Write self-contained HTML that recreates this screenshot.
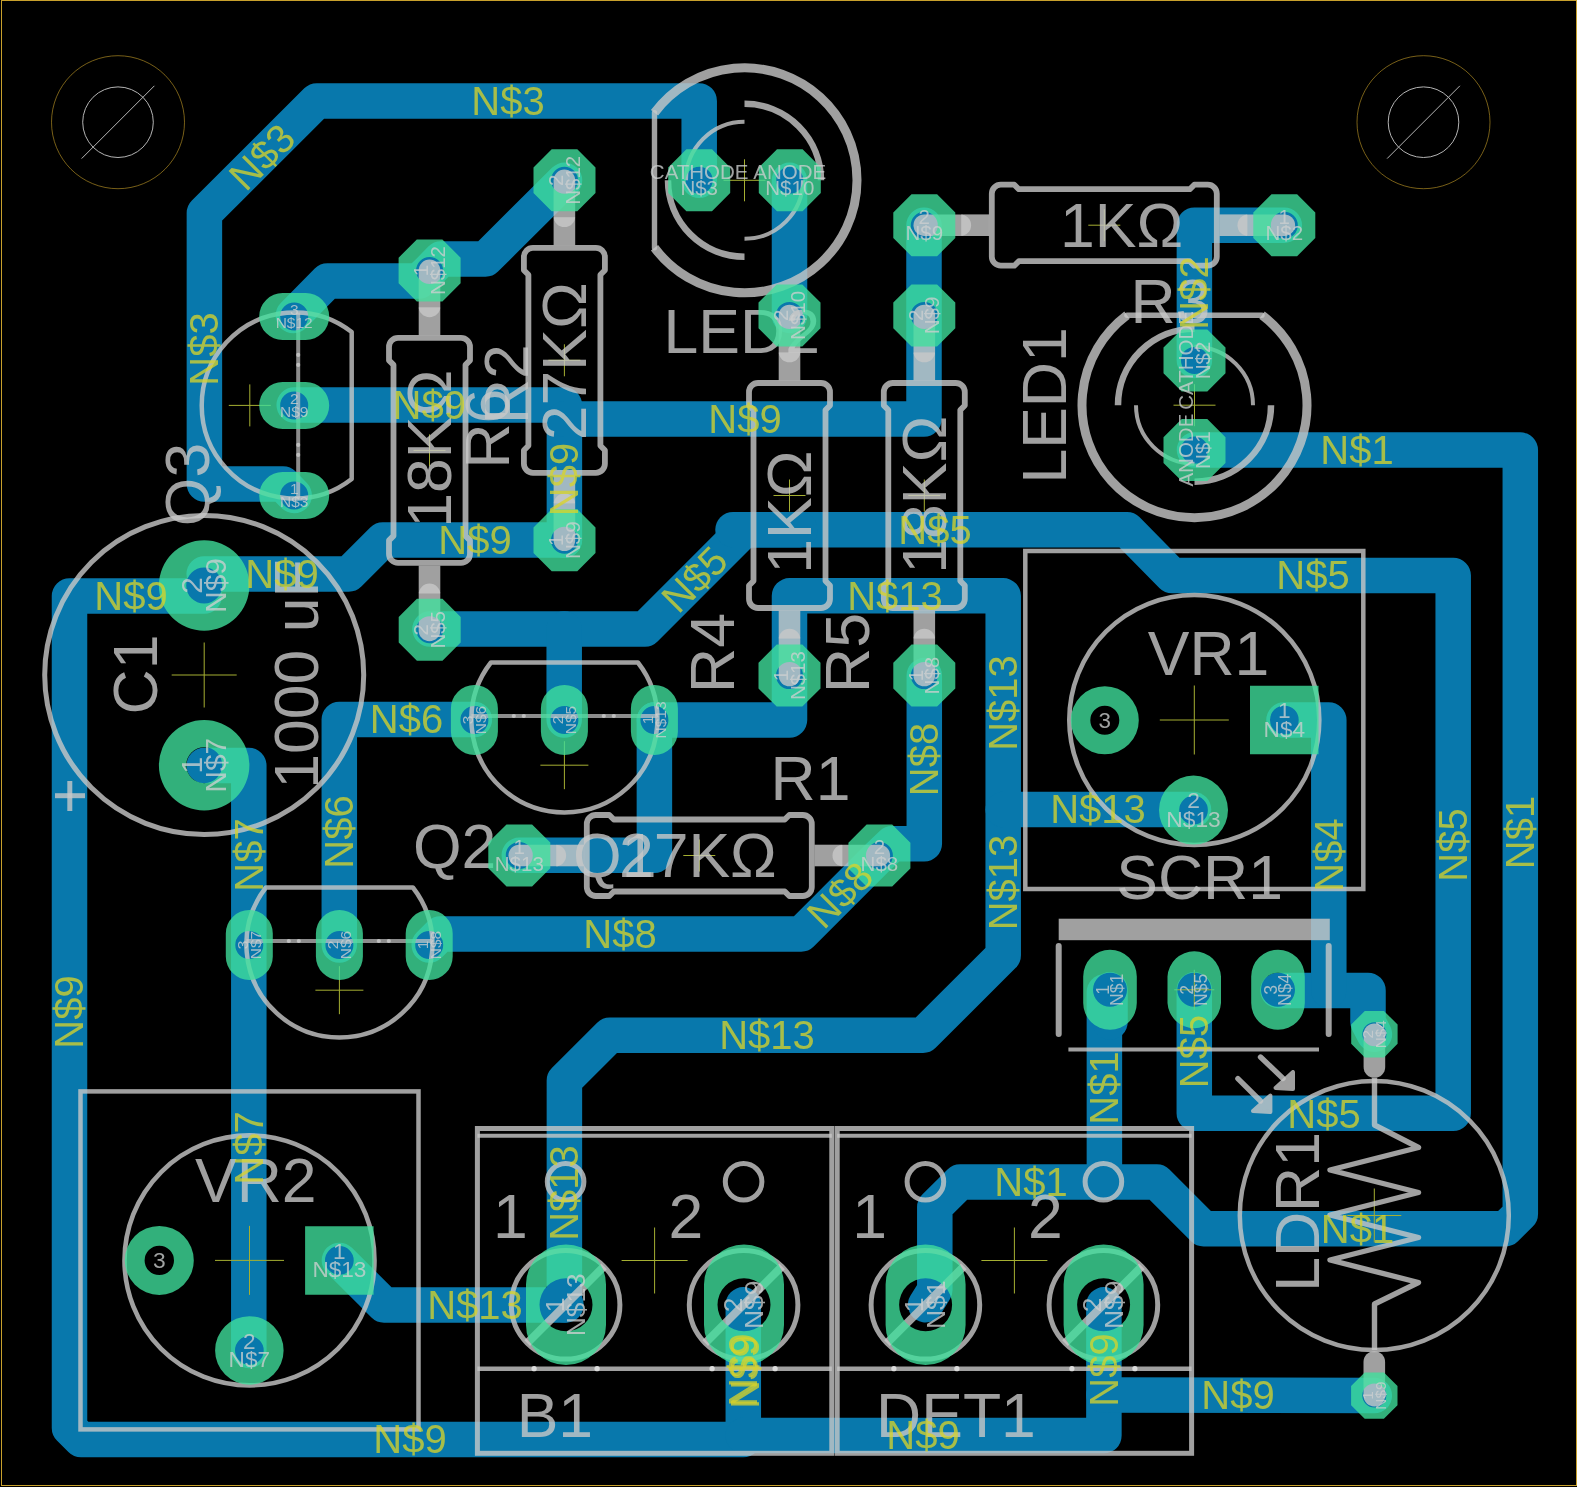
<!DOCTYPE html>
<html><head><meta charset="utf-8"><title>PCB</title>
<style>html,body{margin:0;padding:0;background:#000}svg{display:block}</style></head>
<body><svg width="1577" height="1487" viewBox="0 0 1577 1487">
<defs><filter id="noaa" filterUnits="userSpaceOnUse" x="0" y="0" width="1577" height="1487" color-interpolation-filters="sRGB"><feOffset dx="0" dy="0"/></filter></defs>
<rect width="1577" height="1487" fill="#000"/>
<g filter="url(#noaa)">
<g fill="none" stroke="#0878ac" stroke-width="35.5" stroke-linecap="round" stroke-linejoin="round">
<polyline points="699.2,180.3 699.2,100.9 316.8,100.9 204.4,213.1 204.4,484.0 283.0,484.0 294.2,495.5"/>
<polyline points="293.4,315.5 327.4,281.0 419.0,281.0 429.6,270.6 441.0,259.0 485.5,259.0 564.5,180.3"/>
<polyline points="294.2,405.0 564.4,405.0 564.4,540.0"/>
<polyline points="564.4,419.0 924.0,419.0 924.0,225.2"/>
<polyline points="564.4,540.0 382.8,540.0 348.8,574.0 204.2,574.0"/>
<polyline points="204.2,596.0 69.5,596.0 69.5,1428.0 81.0,1439.6 743.3,1439.6 743.3,1304.8"/>
<polyline points="743.3,1435.6 1103.9,1435.6 1103.9,1304.8"/>
<polyline points="1103.9,1395.0 1374.3,1395.6"/>
<polyline points="430.0,629.0 645.0,629.0 744.2,529.7 1127.0,529.7 1172.0,575.5 1453.2,575.5 1453.2,1113.3 1194.3,1113.3 1194.3,989.8"/>
<polyline points="564.2,629.0 564.2,720.0"/>
<polyline points="733.0,529.7 800.0,529.7"/>
<polyline points="474.4,719.5 339.3,719.5 339.3,945.0"/>
<polyline points="654.4,720.0 789.5,720.0 789.5,595.8 1003.2,595.8 1003.2,955.3 923.1,1035.2 609.7,1035.2 564.4,1080.5 564.4,1304.8"/>
<polyline points="654.4,720.0 654.4,855.3 519.3,855.3"/>
<polyline points="1003.2,809.6 1193.5,809.6"/>
<polyline points="339.4,1260.4 384.0,1304.9 566.0,1304.9"/>
<polyline points="789.5,180.3 789.5,315.4"/>
<polyline points="924.3,675.6 924.3,843.8 892.0,843.8 879.4,855.8 801.2,934.0 440.2,934.0 429.2,945.0"/>
<polyline points="204.2,765.5 248.8,765.5 248.8,1350.4"/>
<polyline points="1284.3,225.2 1194.4,225.2 1194.4,360.4"/>
<polyline points="1194.5,450.0 1520.3,450.0 1520.3,1214.0 1505.5,1228.7 1203.6,1228.7 1156.9,1182.0 960.0,1182.0 934.8,1207.0 934.8,1290.0 925.6,1304.8"/>
<polyline points="1104.4,992.0 1104.4,1182.0"/>
<polyline points="1110.0,989.8 1110.0,1022.0"/>
<polyline points="1278.0,990.4 1368.0,990.4 1368.0,1022.0 1374.4,1034.2"/>
<polyline points="1284.0,720.0 1328.8,720.0 1328.8,990.4"/>
</g>
<g font-family="'Liberation Sans', sans-serif">
<line x1="-180.0" y1="0.0" x2="-144.0" y2="0.0" stroke="rgb(200,200,200)" stroke-opacity="0.8" stroke-width="21.6" stroke-linecap="round" transform="translate(1104.3 225.2) rotate(0)"/>
<rect x="-143.1" y="-10.8" width="27.9" height="21.6" fill="rgb(200,200,200)" fill-opacity="0.8" transform="translate(1104.3 225.2) rotate(0)"/>
<line x1="180.0" y1="0.0" x2="144.0" y2="0.0" stroke="rgb(200,200,200)" stroke-opacity="0.8" stroke-width="21.6" stroke-linecap="round" transform="translate(1104.3 225.2) rotate(0)"/>
<rect x="115.2" y="-10.8" width="27.9" height="21.6" fill="rgb(200,200,200)" fill-opacity="0.8" transform="translate(1104.3 225.2) rotate(0)"/>
<path d="M-112.5 -31.5 A9 9 0 0 1 -103.5 -40.5 L-90 -40.5 L-85.5 -36 L85.5 -36 L90 -40.5 L103.5 -40.5 A9 9 0 0 1 112.5 -31.5 L112.5 31.5 A9 9 0 0 1 103.5 40.5 L90 40.5 L85.5 36 L-85.5 36 L-90 40.5 L-103.5 40.5 A9 9 0 0 1 -112.5 31.5 Z" fill="none" stroke="rgb(200,200,200)" stroke-opacity="0.8" stroke-width="5.8" stroke-linecap="round" stroke-linejoin="round" transform="translate(1104.3 225.2) rotate(0)"/>
<path d="M1088.3 225.2H1120.3M1104.3 209.2V241.2" stroke="rgb(165,175,50)" stroke-width="1" fill="none"/>
<line x1="-180.0" y1="0.0" x2="-144.0" y2="0.0" stroke="rgb(200,200,200)" stroke-opacity="0.8" stroke-width="21.6" stroke-linecap="round" transform="translate(564.4 360.3) rotate(90)"/>
<rect x="-143.1" y="-10.8" width="27.9" height="21.6" fill="rgb(200,200,200)" fill-opacity="0.8" transform="translate(564.4 360.3) rotate(90)"/>
<line x1="180.0" y1="0.0" x2="144.0" y2="0.0" stroke="rgb(200,200,200)" stroke-opacity="0.8" stroke-width="21.6" stroke-linecap="round" transform="translate(564.4 360.3) rotate(90)"/>
<rect x="115.2" y="-10.8" width="27.9" height="21.6" fill="rgb(200,200,200)" fill-opacity="0.8" transform="translate(564.4 360.3) rotate(90)"/>
<path d="M-112.5 -31.5 A9 9 0 0 1 -103.5 -40.5 L-90 -40.5 L-85.5 -36 L85.5 -36 L90 -40.5 L103.5 -40.5 A9 9 0 0 1 112.5 -31.5 L112.5 31.5 A9 9 0 0 1 103.5 40.5 L90 40.5 L85.5 36 L-85.5 36 L-90 40.5 L-103.5 40.5 A9 9 0 0 1 -112.5 31.5 Z" fill="none" stroke="rgb(200,200,200)" stroke-opacity="0.8" stroke-width="5.8" stroke-linecap="round" stroke-linejoin="round" transform="translate(564.4 360.3) rotate(90)"/>
<path d="M548.4 360.3H580.4M564.4 344.3V376.3" stroke="rgb(165,175,50)" stroke-width="1" fill="none"/>
<line x1="-180.0" y1="0.0" x2="-144.0" y2="0.0" stroke="rgb(200,200,200)" stroke-opacity="0.8" stroke-width="21.6" stroke-linecap="round" transform="translate(429.5 450.4) rotate(90)"/>
<rect x="-143.1" y="-10.8" width="27.9" height="21.6" fill="rgb(200,200,200)" fill-opacity="0.8" transform="translate(429.5 450.4) rotate(90)"/>
<line x1="180.0" y1="0.0" x2="144.0" y2="0.0" stroke="rgb(200,200,200)" stroke-opacity="0.8" stroke-width="21.6" stroke-linecap="round" transform="translate(429.5 450.4) rotate(90)"/>
<rect x="115.2" y="-10.8" width="27.9" height="21.6" fill="rgb(200,200,200)" fill-opacity="0.8" transform="translate(429.5 450.4) rotate(90)"/>
<path d="M-112.5 -31.5 A9 9 0 0 1 -103.5 -40.5 L-90 -40.5 L-85.5 -36 L85.5 -36 L90 -40.5 L103.5 -40.5 A9 9 0 0 1 112.5 -31.5 L112.5 31.5 A9 9 0 0 1 103.5 40.5 L90 40.5 L85.5 36 L-85.5 36 L-90 40.5 L-103.5 40.5 A9 9 0 0 1 -112.5 31.5 Z" fill="none" stroke="rgb(200,200,200)" stroke-opacity="0.8" stroke-width="5.8" stroke-linecap="round" stroke-linejoin="round" transform="translate(429.5 450.4) rotate(90)"/>
<path d="M413.5 450.4H445.5M429.5 434.4V466.4" stroke="rgb(165,175,50)" stroke-width="1" fill="none"/>
<line x1="-180.0" y1="0.0" x2="-144.0" y2="0.0" stroke="rgb(200,200,200)" stroke-opacity="0.8" stroke-width="21.6" stroke-linecap="round" transform="translate(789.5 495.5) rotate(90)"/>
<rect x="-143.1" y="-10.8" width="27.9" height="21.6" fill="rgb(200,200,200)" fill-opacity="0.8" transform="translate(789.5 495.5) rotate(90)"/>
<line x1="180.0" y1="0.0" x2="144.0" y2="0.0" stroke="rgb(200,200,200)" stroke-opacity="0.8" stroke-width="21.6" stroke-linecap="round" transform="translate(789.5 495.5) rotate(90)"/>
<rect x="115.2" y="-10.8" width="27.9" height="21.6" fill="rgb(200,200,200)" fill-opacity="0.8" transform="translate(789.5 495.5) rotate(90)"/>
<path d="M-112.5 -31.5 A9 9 0 0 1 -103.5 -40.5 L-90 -40.5 L-85.5 -36 L85.5 -36 L90 -40.5 L103.5 -40.5 A9 9 0 0 1 112.5 -31.5 L112.5 31.5 A9 9 0 0 1 103.5 40.5 L90 40.5 L85.5 36 L-85.5 36 L-90 40.5 L-103.5 40.5 A9 9 0 0 1 -112.5 31.5 Z" fill="none" stroke="rgb(200,200,200)" stroke-opacity="0.8" stroke-width="5.8" stroke-linecap="round" stroke-linejoin="round" transform="translate(789.5 495.5) rotate(90)"/>
<path d="M773.5 495.5H805.5M789.5 479.5V511.5" stroke="rgb(165,175,50)" stroke-width="1" fill="none"/>
<line x1="-180.0" y1="0.0" x2="-144.0" y2="0.0" stroke="rgb(200,200,200)" stroke-opacity="0.8" stroke-width="21.6" stroke-linecap="round" transform="translate(924.3 495.5) rotate(90)"/>
<rect x="-143.1" y="-10.8" width="27.9" height="21.6" fill="rgb(200,200,200)" fill-opacity="0.8" transform="translate(924.3 495.5) rotate(90)"/>
<line x1="180.0" y1="0.0" x2="144.0" y2="0.0" stroke="rgb(200,200,200)" stroke-opacity="0.8" stroke-width="21.6" stroke-linecap="round" transform="translate(924.3 495.5) rotate(90)"/>
<rect x="115.2" y="-10.8" width="27.9" height="21.6" fill="rgb(200,200,200)" fill-opacity="0.8" transform="translate(924.3 495.5) rotate(90)"/>
<path d="M-112.5 -31.5 A9 9 0 0 1 -103.5 -40.5 L-90 -40.5 L-85.5 -36 L85.5 -36 L90 -40.5 L103.5 -40.5 A9 9 0 0 1 112.5 -31.5 L112.5 31.5 A9 9 0 0 1 103.5 40.5 L90 40.5 L85.5 36 L-85.5 36 L-90 40.5 L-103.5 40.5 A9 9 0 0 1 -112.5 31.5 Z" fill="none" stroke="rgb(200,200,200)" stroke-opacity="0.8" stroke-width="5.8" stroke-linecap="round" stroke-linejoin="round" transform="translate(924.3 495.5) rotate(90)"/>
<path d="M908.3 495.5H940.3M924.3 479.5V511.5" stroke="rgb(165,175,50)" stroke-width="1" fill="none"/>
<line x1="-180.0" y1="0.0" x2="-144.0" y2="0.0" stroke="rgb(200,200,200)" stroke-opacity="0.8" stroke-width="21.6" stroke-linecap="round" transform="translate(699.3 855.5) rotate(0)"/>
<rect x="-143.1" y="-10.8" width="27.9" height="21.6" fill="rgb(200,200,200)" fill-opacity="0.8" transform="translate(699.3 855.5) rotate(0)"/>
<line x1="180.0" y1="0.0" x2="144.0" y2="0.0" stroke="rgb(200,200,200)" stroke-opacity="0.8" stroke-width="21.6" stroke-linecap="round" transform="translate(699.3 855.5) rotate(0)"/>
<rect x="115.2" y="-10.8" width="27.9" height="21.6" fill="rgb(200,200,200)" fill-opacity="0.8" transform="translate(699.3 855.5) rotate(0)"/>
<path d="M-112.5 -31.5 A9 9 0 0 1 -103.5 -40.5 L-90 -40.5 L-85.5 -36 L85.5 -36 L90 -40.5 L103.5 -40.5 A9 9 0 0 1 112.5 -31.5 L112.5 31.5 A9 9 0 0 1 103.5 40.5 L90 40.5 L85.5 36 L-85.5 36 L-90 40.5 L-103.5 40.5 A9 9 0 0 1 -112.5 31.5 Z" fill="none" stroke="rgb(200,200,200)" stroke-opacity="0.8" stroke-width="5.8" stroke-linecap="round" stroke-linejoin="round" transform="translate(699.3 855.5) rotate(0)"/>
<path d="M683.3 855.5H715.3M699.3 839.5V871.5" stroke="rgb(165,175,50)" stroke-width="1" fill="none"/>
<path d="M-90 -67.5 A112.5 112.5 0 1 1 -90 67.5" fill="none" stroke="rgb(200,200,200)" stroke-opacity="0.8" stroke-width="9.0" stroke-linecap="butt" stroke-linejoin="round" transform="translate(744.5 180.3) rotate(0)"/>
<line x1="-90.0" y1="-67.5" x2="-90.0" y2="67.5" stroke="rgb(200,200,200)" stroke-opacity="0.8" stroke-width="5.4" stroke-linecap="round" transform="translate(744.5 180.3) rotate(0)"/>
<path d="M0 -76.5 A76.5 76.5 0 0 1 76.5 0" fill="none" stroke="rgb(200,200,200)" stroke-opacity="0.8" stroke-width="6.5" stroke-linecap="butt" stroke-linejoin="round" transform="translate(744.5 180.3) rotate(0)"/>
<path d="M-76.5 0 A76.5 76.5 0 0 0 0 76.5" fill="none" stroke="rgb(200,200,200)" stroke-opacity="0.8" stroke-width="6.5" stroke-linecap="butt" stroke-linejoin="round" transform="translate(744.5 180.3) rotate(0)"/>
<path d="M0 -58.5 A58.5 58.5 0 0 0 -58.5 0" fill="none" stroke="rgb(200,200,200)" stroke-opacity="0.8" stroke-width="4.0" stroke-linecap="butt" stroke-linejoin="round" transform="translate(744.5 180.3) rotate(0)"/>
<path d="M0 58.5 A58.5 58.5 0 0 0 58.5 0" fill="none" stroke="rgb(200,200,200)" stroke-opacity="0.8" stroke-width="4.0" stroke-linecap="butt" stroke-linejoin="round" transform="translate(744.5 180.3) rotate(0)"/>
<path d="M723.5 180.3H765.5M744.5 159.3V201.3" stroke="rgb(165,175,50)" stroke-width="1" fill="none"/>
<path d="M-90 -67.5 A112.5 112.5 0 1 1 -90 67.5" fill="none" stroke="rgb(200,200,200)" stroke-opacity="0.8" stroke-width="9.0" stroke-linecap="butt" stroke-linejoin="round" transform="translate(1194.5 405.2) rotate(90)"/>
<line x1="-90.0" y1="-67.5" x2="-90.0" y2="67.5" stroke="rgb(200,200,200)" stroke-opacity="0.8" stroke-width="5.4" stroke-linecap="round" transform="translate(1194.5 405.2) rotate(90)"/>
<path d="M0 -76.5 A76.5 76.5 0 0 1 76.5 0" fill="none" stroke="rgb(200,200,200)" stroke-opacity="0.8" stroke-width="6.5" stroke-linecap="butt" stroke-linejoin="round" transform="translate(1194.5 405.2) rotate(90)"/>
<path d="M-76.5 0 A76.5 76.5 0 0 0 0 76.5" fill="none" stroke="rgb(200,200,200)" stroke-opacity="0.8" stroke-width="6.5" stroke-linecap="butt" stroke-linejoin="round" transform="translate(1194.5 405.2) rotate(90)"/>
<path d="M0 -58.5 A58.5 58.5 0 0 0 -58.5 0" fill="none" stroke="rgb(200,200,200)" stroke-opacity="0.8" stroke-width="4.0" stroke-linecap="butt" stroke-linejoin="round" transform="translate(1194.5 405.2) rotate(90)"/>
<path d="M0 58.5 A58.5 58.5 0 0 0 58.5 0" fill="none" stroke="rgb(200,200,200)" stroke-opacity="0.8" stroke-width="4.0" stroke-linecap="butt" stroke-linejoin="round" transform="translate(1194.5 405.2) rotate(90)"/>
<path d="M1173.5 405.2H1215.5M1194.5 384.2V426.2" stroke="rgb(165,175,50)" stroke-width="1" fill="none"/>
<path d="M-73.5 -57.5 A93 93 0 1 0 73.5 -57.5 Z" fill="none" stroke="rgb(200,200,200)" stroke-opacity="0.8" stroke-width="4.5" stroke-linecap="round" stroke-linejoin="round" transform="translate(564.4 720.0) rotate(0)"/>
<line x1="-93.0" y1="-4.0" x2="93.0" y2="-4.0" stroke="rgb(200,200,200)" stroke-opacity="0.7" stroke-width="4.0" stroke-linecap="butt" transform="translate(564.4 720.0) rotate(0)"/>
<circle cx="-50.6" cy="-4" r="2.1" fill="rgb(225,225,225)" fill-opacity="0.6" transform="translate(564.4 720.0) rotate(0)"/>
<circle cx="-40.6" cy="-4" r="2.1" fill="rgb(225,225,225)" fill-opacity="0.6" transform="translate(564.4 720.0) rotate(0)"/>
<circle cx="39.4" cy="-4" r="2.1" fill="rgb(225,225,225)" fill-opacity="0.6" transform="translate(564.4 720.0) rotate(0)"/>
<circle cx="49.4" cy="-4" r="2.1" fill="rgb(225,225,225)" fill-opacity="0.6" transform="translate(564.4 720.0) rotate(0)"/>
<path d="M-73.5 -57.5 A93 93 0 1 0 73.5 -57.5 Z" fill="none" stroke="rgb(200,200,200)" stroke-opacity="0.8" stroke-width="4.5" stroke-linecap="round" stroke-linejoin="round" transform="translate(339.4 945.0) rotate(0)"/>
<line x1="-93.0" y1="-4.0" x2="93.0" y2="-4.0" stroke="rgb(200,200,200)" stroke-opacity="0.7" stroke-width="4.0" stroke-linecap="butt" transform="translate(339.4 945.0) rotate(0)"/>
<circle cx="-50.6" cy="-4" r="2.1" fill="rgb(225,225,225)" fill-opacity="0.6" transform="translate(339.4 945.0) rotate(0)"/>
<circle cx="-40.6" cy="-4" r="2.1" fill="rgb(225,225,225)" fill-opacity="0.6" transform="translate(339.4 945.0) rotate(0)"/>
<circle cx="39.4" cy="-4" r="2.1" fill="rgb(225,225,225)" fill-opacity="0.6" transform="translate(339.4 945.0) rotate(0)"/>
<circle cx="49.4" cy="-4" r="2.1" fill="rgb(225,225,225)" fill-opacity="0.6" transform="translate(339.4 945.0) rotate(0)"/>
<path d="M-73.5 -57.5 A93 93 0 1 0 73.5 -57.5 Z" fill="none" stroke="rgb(200,200,200)" stroke-opacity="0.8" stroke-width="4.5" stroke-linecap="round" stroke-linejoin="round" transform="translate(294.2 405.5) rotate(90)"/>
<line x1="-93.0" y1="-4.0" x2="93.0" y2="-4.0" stroke="rgb(200,200,200)" stroke-opacity="0.7" stroke-width="4.0" stroke-linecap="butt" transform="translate(294.2 405.5) rotate(90)"/>
<circle cx="-50.6" cy="-4" r="2.1" fill="rgb(225,225,225)" fill-opacity="0.6" transform="translate(294.2 405.5) rotate(90)"/>
<circle cx="-40.6" cy="-4" r="2.1" fill="rgb(225,225,225)" fill-opacity="0.6" transform="translate(294.2 405.5) rotate(90)"/>
<circle cx="39.4" cy="-4" r="2.1" fill="rgb(225,225,225)" fill-opacity="0.6" transform="translate(294.2 405.5) rotate(90)"/>
<circle cx="49.4" cy="-4" r="2.1" fill="rgb(225,225,225)" fill-opacity="0.6" transform="translate(294.2 405.5) rotate(90)"/>
<path d="M540.4 765.2H588.4M564.4 741.2V789.2" stroke="rgb(165,175,50)" stroke-width="1" fill="none"/>
<path d="M315.4 990.2H363.4M339.4 966.2V1014.2" stroke="rgb(165,175,50)" stroke-width="1" fill="none"/>
<path d="M228.8 405.4H270.8M249.8 384.4V426.4" stroke="rgb(165,175,50)" stroke-width="1" fill="none"/>
<circle cx="204.2" cy="675.0" r="159.5" fill="none" stroke="rgb(200,200,200)" stroke-opacity="0.8" stroke-width="5.0"/>
<path d="M171.7 675.0H236.7M204.2 642.5V707.5" stroke="rgb(165,175,50)" stroke-width="1" fill="none"/>
<line x1="55.0" y1="795.7" x2="85.0" y2="795.7" stroke="rgb(200,200,200)" stroke-opacity="0.8" stroke-width="5.0" stroke-linecap="butt"/>
<line x1="69.8" y1="781.0" x2="69.8" y2="811.0" stroke="rgb(200,200,200)" stroke-opacity="0.8" stroke-width="5.0" stroke-linecap="butt"/>
<rect x="1025.3" y="551.0" width="338" height="338" fill="none" stroke="rgb(200,200,200)" stroke-opacity="0.8" stroke-width="4.5"/>
<circle cx="1194.3" cy="720.0" r="125.0" fill="none" stroke="rgb(200,200,200)" stroke-opacity="0.8" stroke-width="4.6"/>
<path d="M1159.8 720.0H1228.8M1194.3 685.5V754.5" stroke="rgb(165,175,50)" stroke-width="1" fill="none"/>
<rect x="80.5" y="1091.4" width="338" height="338" fill="none" stroke="rgb(200,200,200)" stroke-opacity="0.8" stroke-width="4.5"/>
<circle cx="249.5" cy="1260.4" r="125.0" fill="none" stroke="rgb(200,200,200)" stroke-opacity="0.8" stroke-width="4.6"/>
<path d="M215.0 1260.4H284.0M249.5 1225.9V1294.9" stroke="rgb(165,175,50)" stroke-width="1" fill="none"/>
<rect x="1058.7" y="918.7" width="271.1" height="21.5" fill="rgb(200,200,200)" fill-opacity="0.8"/>
<line x1="1058.7" y1="946.0" x2="1058.7" y2="1034.0" stroke="rgb(200,200,200)" stroke-opacity="0.8" stroke-width="6.0" stroke-linecap="round"/>
<line x1="1328.7" y1="946.0" x2="1328.7" y2="1034.0" stroke="rgb(200,200,200)" stroke-opacity="0.8" stroke-width="6.0" stroke-linecap="round"/>
<line x1="1068.4" y1="1049.4" x2="1319.0" y2="1049.4" stroke="rgb(200,200,200)" stroke-opacity="0.8" stroke-width="4.0" stroke-linecap="butt"/>
<path d="M1174.3 989.8H1214.3M1194.3 969.8V1009.8" stroke="rgb(165,175,50)" stroke-width="1" fill="none"/>
<rect x="477.4" y="1128.5" width="354.4" height="324.8" fill="none" stroke="rgb(200,200,200)" stroke-opacity="0.8" stroke-width="5"/>
<line x1="477.4" y1="1135.8" x2="831.8" y2="1135.8" stroke="rgb(200,200,200)" stroke-opacity="0.8" stroke-width="4.0" stroke-linecap="butt"/>
<line x1="477.4" y1="1368.7" x2="831.8" y2="1368.7" stroke="rgb(200,200,200)" stroke-opacity="0.8" stroke-width="4.5" stroke-linecap="butt"/>
<circle cx="565.6" cy="1304.8" r="54.3" fill="none" stroke="rgb(200,200,200)" stroke-opacity="0.8" stroke-width="5.0"/>
<line x1="527.2" y1="1343.2" x2="604.0" y2="1266.4" stroke="rgb(200,200,200)" stroke-opacity="0.8" stroke-width="8.0" stroke-linecap="butt"/>
<circle cx="565.6" cy="1181.8" r="18.3" fill="none" stroke="rgb(200,200,200)" stroke-opacity="0.8" stroke-width="5.0"/>
<circle cx="534.1" cy="1368.7" r="2.6" fill="rgb(220,220,220)"/>
<circle cx="597.1" cy="1368.7" r="2.6" fill="rgb(220,220,220)"/>
<circle cx="743.6" cy="1304.8" r="54.3" fill="none" stroke="rgb(200,200,200)" stroke-opacity="0.8" stroke-width="5.0"/>
<line x1="705.2" y1="1343.2" x2="782.0" y2="1266.4" stroke="rgb(200,200,200)" stroke-opacity="0.8" stroke-width="8.0" stroke-linecap="butt"/>
<circle cx="743.6" cy="1181.8" r="18.3" fill="none" stroke="rgb(200,200,200)" stroke-opacity="0.8" stroke-width="5.0"/>
<circle cx="712.1" cy="1368.7" r="2.6" fill="rgb(220,220,220)"/>
<circle cx="775.1" cy="1368.7" r="2.6" fill="rgb(220,220,220)"/>
<path d="M621.6 1260.5H687.6M654.6 1227.5V1293.5" stroke="rgb(165,175,50)" stroke-width="1" fill="none"/>
<rect x="837.2" y="1128.5" width="354.4" height="324.8" fill="none" stroke="rgb(200,200,200)" stroke-opacity="0.8" stroke-width="5"/>
<line x1="837.2" y1="1135.8" x2="1191.6" y2="1135.8" stroke="rgb(200,200,200)" stroke-opacity="0.8" stroke-width="4.0" stroke-linecap="butt"/>
<line x1="837.2" y1="1368.7" x2="1191.6" y2="1368.7" stroke="rgb(200,200,200)" stroke-opacity="0.8" stroke-width="4.5" stroke-linecap="butt"/>
<circle cx="925.4" cy="1304.8" r="54.3" fill="none" stroke="rgb(200,200,200)" stroke-opacity="0.8" stroke-width="5.0"/>
<line x1="887.0" y1="1343.2" x2="963.8" y2="1266.4" stroke="rgb(200,200,200)" stroke-opacity="0.8" stroke-width="8.0" stroke-linecap="butt"/>
<circle cx="925.4" cy="1181.8" r="18.3" fill="none" stroke="rgb(200,200,200)" stroke-opacity="0.8" stroke-width="5.0"/>
<circle cx="893.9" cy="1368.7" r="2.6" fill="rgb(220,220,220)"/>
<circle cx="956.9" cy="1368.7" r="2.6" fill="rgb(220,220,220)"/>
<circle cx="1103.4" cy="1304.8" r="54.3" fill="none" stroke="rgb(200,200,200)" stroke-opacity="0.8" stroke-width="5.0"/>
<line x1="1065.0" y1="1343.2" x2="1141.8" y2="1266.4" stroke="rgb(200,200,200)" stroke-opacity="0.8" stroke-width="8.0" stroke-linecap="butt"/>
<circle cx="1103.4" cy="1181.8" r="18.3" fill="none" stroke="rgb(200,200,200)" stroke-opacity="0.8" stroke-width="5.0"/>
<circle cx="1071.9" cy="1368.7" r="2.6" fill="rgb(220,220,220)"/>
<circle cx="1134.9" cy="1368.7" r="2.6" fill="rgb(220,220,220)"/>
<path d="M981.4 1260.5H1047.4M1014.4 1227.5V1293.5" stroke="rgb(165,175,50)" stroke-width="1" fill="none"/>
<circle cx="1374.3" cy="1215.5" r="134.5" fill="none" stroke="rgb(200,200,200)" stroke-opacity="0.8" stroke-width="4.5"/>
<path d="M1347.3 1215.5H1401.3M1374.3 1188.5V1242.5" stroke="rgb(165,175,50)" stroke-width="1" fill="none"/>
<line x1="1374.4" y1="1034.2" x2="1374.4" y2="1067.0" stroke="rgb(200,200,200)" stroke-opacity="0.8" stroke-width="21.6" stroke-linecap="round"/>
<line x1="1374.3" y1="1395.6" x2="1374.3" y2="1362.0" stroke="rgb(200,200,200)" stroke-opacity="0.8" stroke-width="21.6" stroke-linecap="round"/>
<path d="M1374.5 1078 V1125 L1418.5 1147.5 L1330 1170 L1418.5 1192.5 L1330 1215 L1418.5 1237.5 L1330 1260 L1418.5 1282.5 L1374.5 1304 V1350" fill="none" stroke="rgb(200,200,200)" stroke-opacity="0.8" stroke-width="5.4" stroke-linecap="butt" stroke-linejoin="round"/>
<line x1="1260.5" y1="1057.0" x2="1283.0" y2="1078.5" stroke="rgb(200,200,200)" stroke-opacity="0.8" stroke-width="5.4" stroke-linecap="round"/>
<path d="M1293 1072 L1293 1089 L1275.5 1088 Z" fill="rgb(200,200,200)" stroke="rgb(200,200,200)" stroke-width="4" stroke-linejoin="round" opacity="0.8"/>
<line x1="1237.9" y1="1078.6" x2="1260.5" y2="1101.0" stroke="rgb(200,200,200)" stroke-opacity="0.8" stroke-width="5.4" stroke-linecap="round"/>
<path d="M1270.4 1095.5 L1270.4 1112 L1253 1111 Z" fill="rgb(200,200,200)" stroke="rgb(200,200,200)" stroke-width="4" stroke-linejoin="round" opacity="0.8"/>
<circle cx="118" cy="122.2" r="66.5" fill="none" stroke="#c8a028" stroke-width="0.6"/>
<circle cx="118" cy="122.2" r="35.3" fill="none" stroke="#b4b4b4" stroke-width="1"/>
<line x1="81.6" y1="158.6" x2="154.4" y2="85.8" stroke="#b4b4b4" stroke-width="1"/>
<circle cx="1423.5" cy="122.2" r="66.5" fill="none" stroke="#c8a028" stroke-width="0.6"/>
<circle cx="1423.5" cy="122.2" r="35.3" fill="none" stroke="#b4b4b4" stroke-width="1"/>
<line x1="1387.1" y1="158.6" x2="1459.9" y2="85.8" stroke="#b4b4b4" stroke-width="1"/>
<text x="663.6" y="352.7" font-size="62.5" text-anchor="start" fill="rgb(200,200,200)" fill-opacity="0.8">LED2</text>
<text x="1065.8" y="483.6" font-size="62.5" text-anchor="start" fill="rgb(200,200,200)" fill-opacity="0.8" transform="rotate(-90 1065.8 483.6)">LED1</text>
<text x="1130.4" y="323.2" font-size="62.5" text-anchor="start" fill="rgb(200,200,200)" fill-opacity="0.8">R3</text>
<text x="1060.0" y="247.0" font-size="62.5" text-anchor="start" fill="rgb(200,200,200)" fill-opacity="0.8">1KΩ</text>
<text x="618.9" y="877.2" font-size="62.5" text-anchor="start" fill="rgb(200,200,200)" fill-opacity="0.8">27KΩ</text>
<text x="413.0" y="868.4" font-size="62.5" text-anchor="start" fill="rgb(200,200,200)" fill-opacity="0.8">Q2</text>
<text x="573.1" y="876.8" font-size="62.5" text-anchor="start" fill="rgb(200,200,200)" fill-opacity="0.8">Q1</text>
<text x="770.6" y="800.2" font-size="62.5" text-anchor="start" fill="rgb(200,200,200)" fill-opacity="0.8">R1</text>
<text x="1116.3" y="898.5" font-size="62.5" text-anchor="start" fill="rgb(200,200,200)" fill-opacity="0.8">SCR1</text>
<text x="1147.8" y="674.8" font-size="62.5" text-anchor="start" fill="rgb(200,200,200)" fill-opacity="0.8">VR1</text>
<text x="195.0" y="1202.0" font-size="62.5" text-anchor="start" fill="rgb(200,200,200)" fill-opacity="0.8">VR2</text>
<text x="516.7" y="1436.8" font-size="62.5" text-anchor="start" fill="rgb(200,200,200)" fill-opacity="0.8">B1</text>
<text x="876.1" y="1436.8" font-size="62.5" text-anchor="start" fill="rgb(200,200,200)" fill-opacity="0.8">DET1</text>
<text x="1318.9" y="1291.8" font-size="62.5" text-anchor="start" fill="rgb(200,200,200)" fill-opacity="0.8" transform="rotate(-90 1318.9 1291.8)">LDR1</text>
<text x="493.0" y="1237.6" font-size="62.5" text-anchor="start" fill="rgb(200,200,200)" fill-opacity="0.8">1</text>
<text x="668.5" y="1237.6" font-size="62.5" text-anchor="start" fill="rgb(200,200,200)" fill-opacity="0.8">2</text>
<text x="852.3" y="1237.6" font-size="62.5" text-anchor="start" fill="rgb(200,200,200)" fill-opacity="0.8">1</text>
<text x="1027.9" y="1237.6" font-size="62.5" text-anchor="start" fill="rgb(200,200,200)" fill-opacity="0.8">2</text>
<text x="156.7" y="714.4" font-size="62.5" text-anchor="start" fill="rgb(200,200,200)" fill-opacity="0.8" transform="rotate(-90 156.7 714.4)">C1</text>
<text x="318.5" y="788.7" font-size="62.5" text-anchor="start" fill="rgb(200,200,200)" fill-opacity="0.8" transform="rotate(-90 318.5 788.7)">1000 uF</text>
<text x="208.6" y="526.2" font-size="62.5" text-anchor="start" fill="rgb(200,200,200)" fill-opacity="0.8" transform="rotate(-90 208.6 526.2)">Q3</text>
<text x="586.1" y="440.3" font-size="62.5" text-anchor="start" fill="rgb(200,200,200)" fill-opacity="0.8" transform="rotate(-90 586.1 440.3)">27KΩ</text>
<text x="451.2" y="527.8" font-size="62.5" text-anchor="start" fill="rgb(200,200,200)" fill-opacity="0.8" transform="rotate(-90 451.2 527.8)">18KΩ</text>
<text x="810.9" y="573.7" font-size="62.5" text-anchor="start" fill="rgb(200,200,200)" fill-opacity="0.8" transform="rotate(-90 810.9 573.7)">1KΩ</text>
<text x="946.1" y="573.7" font-size="62.5" text-anchor="start" fill="rgb(200,200,200)" fill-opacity="0.8" transform="rotate(-90 946.1 573.7)">18KΩ</text>
<text x="509.5" y="468.6" font-size="62.5" text-anchor="start" fill="rgb(200,200,200)" fill-opacity="0.8" transform="rotate(-90 509.5 468.6)">R6</text>
<text x="527.8" y="424.1" font-size="62.5" text-anchor="start" fill="rgb(200,200,200)" fill-opacity="0.8" transform="rotate(-90 527.8 424.1)">R2</text>
<text x="734.1" y="693.0" font-size="62.5" text-anchor="start" fill="rgb(200,200,200)" fill-opacity="0.8" transform="rotate(-90 734.1 693.0)">R4</text>
<text x="869.0" y="693.0" font-size="62.5" text-anchor="start" fill="rgb(200,200,200)" fill-opacity="0.8" transform="rotate(-90 869.0 693.0)">R5</text>
<path d="M911.5 194.2 L937.1 194.2 L955.3 212.4 L955.3 238.0 L937.1 256.2 L911.5 256.2 L893.3 238.0 L893.3 212.4 Z M910.8 225.2 a13.5 13.5 0 1 0 27.0 0 a13.5 13.5 0 1 0 -27.0 0 Z" fill="rgb(63,223,156)" fill-opacity="0.79" fill-rule="evenodd"/>
<path d="M1271.5 194.2 L1297.1 194.2 L1315.3 212.4 L1315.3 238.0 L1297.1 256.2 L1271.5 256.2 L1253.3 238.0 L1253.3 212.4 Z M1270.8 225.2 a13.5 13.5 0 1 0 27.0 0 a13.5 13.5 0 1 0 -27.0 0 Z" fill="rgb(63,223,156)" fill-opacity="0.79" fill-rule="evenodd"/>
<path d="M551.7 149.3 L577.3 149.3 L595.5 167.5 L595.5 193.1 L577.3 211.3 L551.7 211.3 L533.5 193.1 L533.5 167.5 Z M551.0 180.3 a13.5 13.5 0 1 0 27.0 0 a13.5 13.5 0 1 0 -27.0 0 Z" fill="rgb(63,223,156)" fill-opacity="0.79" fill-rule="evenodd"/>
<path d="M551.7 509.2 L577.3 509.2 L595.5 527.4 L595.5 553.0 L577.3 571.2 L551.7 571.2 L533.5 553.0 L533.5 527.4 Z M551.0 540.2 a13.5 13.5 0 1 0 27.0 0 a13.5 13.5 0 1 0 -27.0 0 Z" fill="rgb(63,223,156)" fill-opacity="0.79" fill-rule="evenodd"/>
<path d="M416.8 239.5 L442.4 239.5 L460.6 257.7 L460.6 283.3 L442.4 301.5 L416.8 301.5 L398.6 283.3 L398.6 257.7 Z M416.1 270.5 a13.5 13.5 0 1 0 27.0 0 a13.5 13.5 0 1 0 -27.0 0 Z" fill="rgb(63,223,156)" fill-opacity="0.79" fill-rule="evenodd"/>
<path d="M416.9 598.8 L442.5 598.8 L460.7 617.0 L460.7 642.6 L442.5 660.8 L416.9 660.8 L398.7 642.6 L398.7 617.0 Z M416.2 629.8 a13.5 13.5 0 1 0 27.0 0 a13.5 13.5 0 1 0 -27.0 0 Z" fill="rgb(63,223,156)" fill-opacity="0.79" fill-rule="evenodd"/>
<path d="M776.7 284.4 L802.3 284.4 L820.5 302.6 L820.5 328.2 L802.3 346.4 L776.7 346.4 L758.5 328.2 L758.5 302.6 Z M776.0 315.4 a13.5 13.5 0 1 0 27.0 0 a13.5 13.5 0 1 0 -27.0 0 Z" fill="rgb(63,223,156)" fill-opacity="0.79" fill-rule="evenodd"/>
<path d="M776.7 644.6 L802.3 644.6 L820.5 662.8 L820.5 688.4 L802.3 706.6 L776.7 706.6 L758.5 688.4 L758.5 662.8 Z M776.0 675.6 a13.5 13.5 0 1 0 27.0 0 a13.5 13.5 0 1 0 -27.0 0 Z" fill="rgb(63,223,156)" fill-opacity="0.79" fill-rule="evenodd"/>
<path d="M911.5 284.4 L937.1 284.4 L955.3 302.6 L955.3 328.2 L937.1 346.4 L911.5 346.4 L893.3 328.2 L893.3 302.6 Z M910.8 315.4 a13.5 13.5 0 1 0 27.0 0 a13.5 13.5 0 1 0 -27.0 0 Z" fill="rgb(63,223,156)" fill-opacity="0.79" fill-rule="evenodd"/>
<path d="M911.5 644.6 L937.1 644.6 L955.3 662.8 L955.3 688.4 L937.1 706.6 L911.5 706.6 L893.3 688.4 L893.3 662.8 Z M910.8 675.6 a13.5 13.5 0 1 0 27.0 0 a13.5 13.5 0 1 0 -27.0 0 Z" fill="rgb(63,223,156)" fill-opacity="0.79" fill-rule="evenodd"/>
<path d="M506.5 824.4 L532.1 824.4 L550.3 842.6 L550.3 868.2 L532.1 886.4 L506.5 886.4 L488.3 868.2 L488.3 842.6 Z M505.8 855.4 a13.5 13.5 0 1 0 27.0 0 a13.5 13.5 0 1 0 -27.0 0 Z" fill="rgb(63,223,156)" fill-opacity="0.79" fill-rule="evenodd"/>
<path d="M866.6 824.6 L892.2 824.6 L910.4 842.8 L910.4 868.4 L892.2 886.6 L866.6 886.6 L848.4 868.4 L848.4 842.8 Z M865.9 855.6 a13.5 13.5 0 1 0 27.0 0 a13.5 13.5 0 1 0 -27.0 0 Z" fill="rgb(63,223,156)" fill-opacity="0.79" fill-rule="evenodd"/>
<path d="M686.4 149.3 L712.0 149.3 L730.2 167.5 L730.2 193.1 L712.0 211.3 L686.4 211.3 L668.2 193.1 L668.2 167.5 Z M685.7 180.3 a13.5 13.5 0 1 0 27.0 0 a13.5 13.5 0 1 0 -27.0 0 Z" fill="rgb(63,223,156)" fill-opacity="0.79" fill-rule="evenodd"/>
<path d="M777.0 149.3 L802.6 149.3 L820.8 167.5 L820.8 193.1 L802.6 211.3 L777.0 211.3 L758.8 193.1 L758.8 167.5 Z M776.3 180.3 a13.5 13.5 0 1 0 27.0 0 a13.5 13.5 0 1 0 -27.0 0 Z" fill="rgb(63,223,156)" fill-opacity="0.79" fill-rule="evenodd"/>
<path d="M1181.7 329.4 L1207.3 329.4 L1225.5 347.6 L1225.5 373.2 L1207.3 391.4 L1181.7 391.4 L1163.5 373.2 L1163.5 347.6 Z M1181.0 360.4 a13.5 13.5 0 1 0 27.0 0 a13.5 13.5 0 1 0 -27.0 0 Z" fill="rgb(63,223,156)" fill-opacity="0.79" fill-rule="evenodd"/>
<path d="M1181.7 419.1 L1207.3 419.1 L1225.5 437.3 L1225.5 462.9 L1207.3 481.1 L1181.7 481.1 L1163.5 462.9 L1163.5 437.3 Z M1181.0 450.1 a13.5 13.5 0 1 0 27.0 0 a13.5 13.5 0 1 0 -27.0 0 Z" fill="rgb(63,223,156)" fill-opacity="0.79" fill-rule="evenodd"/>
<path d="M282.7 293.0 H305.7 A23.5 23.5 0 0 1 305.7 340.0 H282.7 A23.5 23.5 0 0 1 282.7 293.0 Z M280.2 316.5 a14.0 14.0 0 1 0 28.0 0 a14.0 14.0 0 1 0 -28.0 0 Z" fill="rgb(63,223,156)" fill-opacity="0.79" fill-rule="evenodd"/>
<path d="M282.7 382.0 H305.7 A23.5 23.5 0 0 1 305.7 429.0 H282.7 A23.5 23.5 0 0 1 282.7 382.0 Z M280.2 405.5 a14.0 14.0 0 1 0 28.0 0 a14.0 14.0 0 1 0 -28.0 0 Z" fill="rgb(63,223,156)" fill-opacity="0.79" fill-rule="evenodd"/>
<path d="M282.7 472.0 H305.7 A23.5 23.5 0 0 1 305.7 519.0 H282.7 A23.5 23.5 0 0 1 282.7 472.0 Z M280.2 495.5 a14.0 14.0 0 1 0 28.0 0 a14.0 14.0 0 1 0 -28.0 0 Z" fill="rgb(63,223,156)" fill-opacity="0.79" fill-rule="evenodd"/>
<path d="M450.9 708.5 V731.5 A23.5 23.5 0 0 0 497.9 731.5 V708.5 A23.5 23.5 0 0 0 450.9 708.5 Z M460.4 720.0 a14.0 14.0 0 1 0 28.0 0 a14.0 14.0 0 1 0 -28.0 0 Z" fill="rgb(63,223,156)" fill-opacity="0.79" fill-rule="evenodd"/>
<path d="M540.9 708.5 V731.5 A23.5 23.5 0 0 0 587.9 731.5 V708.5 A23.5 23.5 0 0 0 540.9 708.5 Z M550.4 720.0 a14.0 14.0 0 1 0 28.0 0 a14.0 14.0 0 1 0 -28.0 0 Z" fill="rgb(63,223,156)" fill-opacity="0.79" fill-rule="evenodd"/>
<path d="M630.9 708.5 V731.5 A23.5 23.5 0 0 0 677.9 731.5 V708.5 A23.5 23.5 0 0 0 630.9 708.5 Z M640.4 720.0 a14.0 14.0 0 1 0 28.0 0 a14.0 14.0 0 1 0 -28.0 0 Z" fill="rgb(63,223,156)" fill-opacity="0.79" fill-rule="evenodd"/>
<path d="M225.8 933.5 V956.5 A23.5 23.5 0 0 0 272.8 956.5 V933.5 A23.5 23.5 0 0 0 225.8 933.5 Z M235.3 945.0 a14.0 14.0 0 1 0 28.0 0 a14.0 14.0 0 1 0 -28.0 0 Z" fill="rgb(63,223,156)" fill-opacity="0.79" fill-rule="evenodd"/>
<path d="M315.9 933.5 V956.5 A23.5 23.5 0 0 0 362.9 956.5 V933.5 A23.5 23.5 0 0 0 315.9 933.5 Z M325.4 945.0 a14.0 14.0 0 1 0 28.0 0 a14.0 14.0 0 1 0 -28.0 0 Z" fill="rgb(63,223,156)" fill-opacity="0.79" fill-rule="evenodd"/>
<path d="M405.7 933.5 V956.5 A23.5 23.5 0 0 0 452.7 956.5 V933.5 A23.5 23.5 0 0 0 405.7 933.5 Z M415.2 945.0 a14.0 14.0 0 1 0 28.0 0 a14.0 14.0 0 1 0 -28.0 0 Z" fill="rgb(63,223,156)" fill-opacity="0.79" fill-rule="evenodd"/>
<path d="M158.9 585.5 a45.2 45.2 0 1 0 90.5 0 a45.2 45.2 0 1 0 -90.5 0 Z M186.2 585.5 a18.0 18.0 0 1 0 36.0 0 a18.0 18.0 0 1 0 -36.0 0 Z" fill="rgb(63,223,156)" fill-opacity="0.79" fill-rule="evenodd"/>
<path d="M158.9 765.2 a45.2 45.2 0 1 0 90.5 0 a45.2 45.2 0 1 0 -90.5 0 Z M186.2 765.2 a18.0 18.0 0 1 0 36.0 0 a18.0 18.0 0 1 0 -36.0 0 Z" fill="rgb(63,223,156)" fill-opacity="0.79" fill-rule="evenodd"/>
<path d="M1250.0 685.8 h68.5 v68.5 h-68.5 Z M1270.0 720.0 a14.3 14.3 0 1 0 28.7 0 a14.3 14.3 0 1 0 -28.7 0 Z" fill="rgb(63,223,156)" fill-opacity="0.79" fill-rule="evenodd"/>
<path d="M1159.0 810.1 a34.5 34.5 0 1 0 69.0 0 a34.5 34.5 0 1 0 -69.0 0 Z M1179.2 810.1 a14.3 14.3 0 1 0 28.7 0 a14.3 14.3 0 1 0 -28.7 0 Z" fill="rgb(63,223,156)" fill-opacity="0.79" fill-rule="evenodd"/>
<path d="M1070.8 720.3 a34.0 34.0 0 1 0 68.0 0 a34.0 34.0 0 1 0 -68.0 0 Z M1090.3 720.3 a14.5 14.5 0 1 0 29.0 0 a14.5 14.5 0 1 0 -29.0 0 Z" fill="rgb(63,223,156)" fill-opacity="0.79" fill-rule="evenodd"/>
<path d="M305.1 1226.2 h68.5 v68.5 h-68.5 Z M325.0 1260.4 a14.3 14.3 0 1 0 28.7 0 a14.3 14.3 0 1 0 -28.7 0 Z" fill="rgb(63,223,156)" fill-opacity="0.79" fill-rule="evenodd"/>
<path d="M215.1 1350.4 a34.2 34.2 0 1 0 68.5 0 a34.2 34.2 0 1 0 -68.5 0 Z M235.0 1350.4 a14.3 14.3 0 1 0 28.7 0 a14.3 14.3 0 1 0 -28.7 0 Z" fill="rgb(63,223,156)" fill-opacity="0.79" fill-rule="evenodd"/>
<path d="M124.8 1260.4 a34.5 34.5 0 1 0 69.0 0 a34.5 34.5 0 1 0 -69.0 0 Z M144.6 1260.4 a14.7 14.7 0 1 0 29.4 0 a14.7 14.7 0 1 0 -29.4 0 Z" fill="rgb(63,223,156)" fill-opacity="0.79" fill-rule="evenodd"/>
<path d="M1083.2 976.5 V1003.0 A26.8 26.8 0 0 0 1136.8 1003.0 V976.5 A26.8 26.8 0 0 0 1083.2 976.5 Z M1093.0 989.8 a17.0 17.0 0 1 0 34.0 0 a17.0 17.0 0 1 0 -34.0 0 Z" fill="rgb(63,223,156)" fill-opacity="0.79" fill-rule="evenodd"/>
<path d="M1167.5 976.5 V1003.0 A26.8 26.8 0 0 0 1221.0 1003.0 V976.5 A26.8 26.8 0 0 0 1167.5 976.5 Z M1177.3 989.8 a17.0 17.0 0 1 0 34.0 0 a17.0 17.0 0 1 0 -34.0 0 Z" fill="rgb(63,223,156)" fill-opacity="0.79" fill-rule="evenodd"/>
<path d="M1251.2 976.5 V1003.0 A26.8 26.8 0 0 0 1304.8 1003.0 V976.5 A26.8 26.8 0 0 0 1251.2 976.5 Z M1261.0 989.8 a17.0 17.0 0 1 0 34.0 0 a17.0 17.0 0 1 0 -34.0 0 Z" fill="rgb(63,223,156)" fill-opacity="0.79" fill-rule="evenodd"/>
<path d="M1364.8 1011.0 L1384.0 1011.0 L1397.6 1024.6 L1397.6 1043.8 L1384.0 1057.4 L1364.8 1057.4 L1351.2 1043.8 L1351.2 1024.6 Z M1362.4 1034.2 a12.0 12.0 0 1 0 24.0 0 a12.0 12.0 0 1 0 -24.0 0 Z" fill="rgb(63,223,156)" fill-opacity="0.79" fill-rule="evenodd"/>
<path d="M1364.7 1372.4 L1383.9 1372.4 L1397.5 1386.0 L1397.5 1405.2 L1383.9 1418.8 L1364.7 1418.8 L1351.1 1405.2 L1351.1 1386.0 Z M1362.3 1395.6 a12.0 12.0 0 1 0 24.0 0 a12.0 12.0 0 1 0 -24.0 0 Z" fill="rgb(63,223,156)" fill-opacity="0.79" fill-rule="evenodd"/>
<path d="M526.0 1284.5 V1325.0 A40.0 40.0 0 0 0 606.0 1325.0 V1284.5 A40.0 40.0 0 0 0 526.0 1284.5 Z M539.5 1304.8 a26.5 26.5 0 1 0 53.0 0 a26.5 26.5 0 1 0 -53.0 0 Z" fill="rgb(63,223,156)" fill-opacity="0.79" fill-rule="evenodd"/>
<path d="M704.0 1284.5 V1325.0 A40.0 40.0 0 0 0 784.0 1325.0 V1284.5 A40.0 40.0 0 0 0 704.0 1284.5 Z M717.5 1304.8 a26.5 26.5 0 1 0 53.0 0 a26.5 26.5 0 1 0 -53.0 0 Z" fill="rgb(63,223,156)" fill-opacity="0.79" fill-rule="evenodd"/>
<path d="M885.6 1284.5 V1325.0 A40.0 40.0 0 0 0 965.6 1325.0 V1284.5 A40.0 40.0 0 0 0 885.6 1284.5 Z M899.1 1304.8 a26.5 26.5 0 1 0 53.0 0 a26.5 26.5 0 1 0 -53.0 0 Z" fill="rgb(63,223,156)" fill-opacity="0.79" fill-rule="evenodd"/>
<path d="M1063.6 1284.5 V1325.0 A40.0 40.0 0 0 0 1143.6 1325.0 V1284.5 A40.0 40.0 0 0 0 1063.6 1284.5 Z M1077.1 1304.8 a26.5 26.5 0 1 0 53.0 0 a26.5 26.5 0 1 0 -53.0 0 Z" fill="rgb(63,223,156)" fill-opacity="0.79" fill-rule="evenodd"/>
<text x="924.3" y="223.6" font-size="20.5" text-anchor="middle" fill="rgb(205,208,208)" fill-opacity="0.78">2</text>
<text x="924.3" y="240.3" font-size="20.5" text-anchor="middle" fill="rgb(205,208,208)" fill-opacity="0.78">N$9</text>
<text x="1284.3" y="223.6" font-size="20.5" text-anchor="middle" fill="rgb(205,208,208)" fill-opacity="0.78">1</text>
<text x="1284.3" y="240.3" font-size="20.5" text-anchor="middle" fill="rgb(205,208,208)" fill-opacity="0.78">N$2</text>
<text x="562.9" y="180.3" font-size="20.5" text-anchor="middle" fill="rgb(205,208,208)" fill-opacity="0.78" transform="rotate(-90 562.9 180.3)">2</text>
<text x="579.6" y="180.3" font-size="20.5" text-anchor="middle" fill="rgb(205,208,208)" fill-opacity="0.78" transform="rotate(-90 579.6 180.3)">N$12</text>
<text x="562.9" y="540.2" font-size="20.5" text-anchor="middle" fill="rgb(205,208,208)" fill-opacity="0.78" transform="rotate(-90 562.9 540.2)">1</text>
<text x="579.6" y="540.2" font-size="20.5" text-anchor="middle" fill="rgb(205,208,208)" fill-opacity="0.78" transform="rotate(-90 579.6 540.2)">N$9</text>
<text x="428.0" y="270.5" font-size="20.5" text-anchor="middle" fill="rgb(205,208,208)" fill-opacity="0.78" transform="rotate(-90 428.0 270.5)">1</text>
<text x="444.7" y="270.5" font-size="20.5" text-anchor="middle" fill="rgb(205,208,208)" fill-opacity="0.78" transform="rotate(-90 444.7 270.5)">N$12</text>
<text x="428.1" y="629.8" font-size="20.5" text-anchor="middle" fill="rgb(205,208,208)" fill-opacity="0.78" transform="rotate(-90 428.1 629.8)">2</text>
<text x="444.8" y="629.8" font-size="20.5" text-anchor="middle" fill="rgb(205,208,208)" fill-opacity="0.78" transform="rotate(-90 444.8 629.8)">N$5</text>
<text x="787.9" y="315.4" font-size="20.5" text-anchor="middle" fill="rgb(205,208,208)" fill-opacity="0.78" transform="rotate(-90 787.9 315.4)">2</text>
<text x="804.6" y="315.4" font-size="20.5" text-anchor="middle" fill="rgb(205,208,208)" fill-opacity="0.78" transform="rotate(-90 804.6 315.4)">N$10</text>
<text x="787.9" y="675.6" font-size="20.5" text-anchor="middle" fill="rgb(205,208,208)" fill-opacity="0.78" transform="rotate(-90 787.9 675.6)">1</text>
<text x="804.6" y="675.6" font-size="20.5" text-anchor="middle" fill="rgb(205,208,208)" fill-opacity="0.78" transform="rotate(-90 804.6 675.6)">N$13</text>
<text x="922.7" y="315.4" font-size="20.5" text-anchor="middle" fill="rgb(205,208,208)" fill-opacity="0.78" transform="rotate(-90 922.7 315.4)">2</text>
<text x="939.4" y="315.4" font-size="20.5" text-anchor="middle" fill="rgb(205,208,208)" fill-opacity="0.78" transform="rotate(-90 939.4 315.4)">N$9</text>
<text x="922.7" y="675.6" font-size="20.5" text-anchor="middle" fill="rgb(205,208,208)" fill-opacity="0.78" transform="rotate(-90 922.7 675.6)">1</text>
<text x="939.4" y="675.6" font-size="20.5" text-anchor="middle" fill="rgb(205,208,208)" fill-opacity="0.78" transform="rotate(-90 939.4 675.6)">N$8</text>
<text x="519.3" y="853.8" font-size="20.5" text-anchor="middle" fill="rgb(205,208,208)" fill-opacity="0.78">1</text>
<text x="519.3" y="870.5" font-size="20.5" text-anchor="middle" fill="rgb(205,208,208)" fill-opacity="0.78">N$13</text>
<text x="879.4" y="854.0" font-size="20.5" text-anchor="middle" fill="rgb(205,208,208)" fill-opacity="0.78">2</text>
<text x="879.4" y="870.7" font-size="20.5" text-anchor="middle" fill="rgb(205,208,208)" fill-opacity="0.78">N$8</text>
<text x="699.2" y="178.7" font-size="20.5" text-anchor="middle" fill="rgb(205,208,208)" fill-opacity="0.78">CATHODE</text>
<text x="699.2" y="195.4" font-size="20.5" text-anchor="middle" fill="rgb(205,208,208)" fill-opacity="0.78">N$3</text>
<text x="789.8" y="178.7" font-size="20.5" text-anchor="middle" fill="rgb(205,208,208)" fill-opacity="0.78">ANODE</text>
<text x="789.8" y="195.4" font-size="20.5" text-anchor="middle" fill="rgb(205,208,208)" fill-opacity="0.78">N$10</text>
<text x="1192.9" y="360.4" font-size="20.5" text-anchor="middle" fill="rgb(205,208,208)" fill-opacity="0.78" transform="rotate(-90 1192.9 360.4)">CATHODE</text>
<text x="1209.6" y="360.4" font-size="20.5" text-anchor="middle" fill="rgb(205,208,208)" fill-opacity="0.78" transform="rotate(-90 1209.6 360.4)">N$2</text>
<text x="1192.9" y="450.1" font-size="20.5" text-anchor="middle" fill="rgb(205,208,208)" fill-opacity="0.78" transform="rotate(-90 1192.9 450.1)">ANODE</text>
<text x="1209.6" y="450.1" font-size="20.5" text-anchor="middle" fill="rgb(205,208,208)" fill-opacity="0.78" transform="rotate(-90 1209.6 450.1)">N$1</text>
<text x="294.2" y="315.3" font-size="15.5" text-anchor="middle" fill="rgb(205,208,208)" fill-opacity="0.78">3</text>
<text x="294.2" y="327.9" font-size="15.5" text-anchor="middle" fill="rgb(205,208,208)" fill-opacity="0.78">N$12</text>
<text x="294.2" y="404.3" font-size="15.5" text-anchor="middle" fill="rgb(205,208,208)" fill-opacity="0.78">2</text>
<text x="294.2" y="416.9" font-size="15.5" text-anchor="middle" fill="rgb(205,208,208)" fill-opacity="0.78">N$9</text>
<text x="294.2" y="494.3" font-size="15.5" text-anchor="middle" fill="rgb(205,208,208)" fill-opacity="0.78">1</text>
<text x="294.2" y="506.9" font-size="15.5" text-anchor="middle" fill="rgb(205,208,208)" fill-opacity="0.78">N$3</text>
<text x="473.2" y="720.0" font-size="15.5" text-anchor="middle" fill="rgb(205,208,208)" fill-opacity="0.78" transform="rotate(-90 473.2 720.0)">3</text>
<text x="485.8" y="720.0" font-size="15.5" text-anchor="middle" fill="rgb(205,208,208)" fill-opacity="0.78" transform="rotate(-90 485.8 720.0)">N$6</text>
<text x="563.2" y="720.0" font-size="15.5" text-anchor="middle" fill="rgb(205,208,208)" fill-opacity="0.78" transform="rotate(-90 563.2 720.0)">2</text>
<text x="575.8" y="720.0" font-size="15.5" text-anchor="middle" fill="rgb(205,208,208)" fill-opacity="0.78" transform="rotate(-90 575.8 720.0)">N$5</text>
<text x="653.2" y="720.0" font-size="15.5" text-anchor="middle" fill="rgb(205,208,208)" fill-opacity="0.78" transform="rotate(-90 653.2 720.0)">1</text>
<text x="665.8" y="720.0" font-size="15.5" text-anchor="middle" fill="rgb(205,208,208)" fill-opacity="0.78" transform="rotate(-90 665.8 720.0)">N$13</text>
<text x="248.1" y="945.0" font-size="15.5" text-anchor="middle" fill="rgb(205,208,208)" fill-opacity="0.78" transform="rotate(-90 248.1 945.0)">3</text>
<text x="260.7" y="945.0" font-size="15.5" text-anchor="middle" fill="rgb(205,208,208)" fill-opacity="0.78" transform="rotate(-90 260.7 945.0)">N$7</text>
<text x="338.2" y="945.0" font-size="15.5" text-anchor="middle" fill="rgb(205,208,208)" fill-opacity="0.78" transform="rotate(-90 338.2 945.0)">2</text>
<text x="350.8" y="945.0" font-size="15.5" text-anchor="middle" fill="rgb(205,208,208)" fill-opacity="0.78" transform="rotate(-90 350.8 945.0)">N$6</text>
<text x="428.0" y="945.0" font-size="15.5" text-anchor="middle" fill="rgb(205,208,208)" fill-opacity="0.78" transform="rotate(-90 428.0 945.0)">1</text>
<text x="440.6" y="945.0" font-size="15.5" text-anchor="middle" fill="rgb(205,208,208)" fill-opacity="0.78" transform="rotate(-90 440.6 945.0)">N$8</text>
<text x="201.8" y="585.5" font-size="29.9" text-anchor="middle" fill="rgb(205,208,208)" fill-opacity="0.78" transform="rotate(-90 201.8 585.5)">2</text>
<text x="226.2" y="585.5" font-size="29.9" text-anchor="middle" fill="rgb(205,208,208)" fill-opacity="0.78" transform="rotate(-90 226.2 585.5)">N$9</text>
<text x="201.8" y="765.2" font-size="29.9" text-anchor="middle" fill="rgb(205,208,208)" fill-opacity="0.78" transform="rotate(-90 201.8 765.2)">1</text>
<text x="226.2" y="765.2" font-size="29.9" text-anchor="middle" fill="rgb(205,208,208)" fill-opacity="0.78" transform="rotate(-90 226.2 765.2)">N$7</text>
<text x="1284.3" y="718.2" font-size="22.6" text-anchor="middle" fill="rgb(205,208,208)" fill-opacity="0.78">1</text>
<text x="1284.3" y="736.7" font-size="22.6" text-anchor="middle" fill="rgb(205,208,208)" fill-opacity="0.78">N$4</text>
<text x="1193.5" y="808.3" font-size="22.8" text-anchor="middle" fill="rgb(205,208,208)" fill-opacity="0.78">2</text>
<text x="1193.5" y="826.9" font-size="22.8" text-anchor="middle" fill="rgb(205,208,208)" fill-opacity="0.78">N$13</text>
<text x="1104.8" y="728.0" font-size="22.4" text-anchor="middle" fill="rgb(205,208,208)" fill-opacity="0.78">3</text>
<text x="339.4" y="1258.6" font-size="22.6" text-anchor="middle" fill="rgb(205,208,208)" fill-opacity="0.78">1</text>
<text x="339.4" y="1277.1" font-size="22.6" text-anchor="middle" fill="rgb(205,208,208)" fill-opacity="0.78">N$13</text>
<text x="249.3" y="1348.6" font-size="22.6" text-anchor="middle" fill="rgb(205,208,208)" fill-opacity="0.78">2</text>
<text x="249.3" y="1367.1" font-size="22.6" text-anchor="middle" fill="rgb(205,208,208)" fill-opacity="0.78">N$7</text>
<text x="159.3" y="1268.2" font-size="22.8" text-anchor="middle" fill="rgb(205,208,208)" fill-opacity="0.78">3</text>
<text x="1108.6" y="989.8" font-size="17.7" text-anchor="middle" fill="rgb(205,208,208)" fill-opacity="0.78" transform="rotate(-90 1108.6 989.8)">1</text>
<text x="1123.0" y="989.8" font-size="17.7" text-anchor="middle" fill="rgb(205,208,208)" fill-opacity="0.78" transform="rotate(-90 1123.0 989.8)">N$1</text>
<text x="1192.9" y="989.8" font-size="17.7" text-anchor="middle" fill="rgb(205,208,208)" fill-opacity="0.78" transform="rotate(-90 1192.9 989.8)">2</text>
<text x="1207.3" y="989.8" font-size="17.7" text-anchor="middle" fill="rgb(205,208,208)" fill-opacity="0.78" transform="rotate(-90 1207.3 989.8)">N$5</text>
<text x="1276.6" y="989.8" font-size="17.7" text-anchor="middle" fill="rgb(205,208,208)" fill-opacity="0.78" transform="rotate(-90 1276.6 989.8)">3</text>
<text x="1291.0" y="989.8" font-size="17.7" text-anchor="middle" fill="rgb(205,208,208)" fill-opacity="0.78" transform="rotate(-90 1291.0 989.8)">N$4</text>
<text x="1373.2" y="1034.2" font-size="15.3" text-anchor="middle" fill="rgb(205,208,208)" fill-opacity="0.78" transform="rotate(-90 1373.2 1034.2)">2</text>
<text x="1385.7" y="1034.2" font-size="15.3" text-anchor="middle" fill="rgb(205,208,208)" fill-opacity="0.78" transform="rotate(-90 1385.7 1034.2)">N$4</text>
<text x="1373.1" y="1395.6" font-size="15.3" text-anchor="middle" fill="rgb(205,208,208)" fill-opacity="0.78" transform="rotate(-90 1373.1 1395.6)">1</text>
<text x="1385.6" y="1395.6" font-size="15.3" text-anchor="middle" fill="rgb(205,208,208)" fill-opacity="0.78" transform="rotate(-90 1385.6 1395.6)">N$9</text>
<text x="563.9" y="1304.8" font-size="26.4" text-anchor="middle" fill="rgb(205,208,208)" fill-opacity="0.78" transform="rotate(-90 563.9 1304.8)">1</text>
<text x="585.5" y="1304.8" font-size="26.4" text-anchor="middle" fill="rgb(205,208,208)" fill-opacity="0.78" transform="rotate(-90 585.5 1304.8)">N$13</text>
<text x="741.9" y="1304.8" font-size="26.4" text-anchor="middle" fill="rgb(205,208,208)" fill-opacity="0.78" transform="rotate(-90 741.9 1304.8)">2</text>
<text x="763.5" y="1304.8" font-size="26.4" text-anchor="middle" fill="rgb(205,208,208)" fill-opacity="0.78" transform="rotate(-90 763.5 1304.8)">N$9</text>
<text x="923.5" y="1304.8" font-size="26.4" text-anchor="middle" fill="rgb(205,208,208)" fill-opacity="0.78" transform="rotate(-90 923.5 1304.8)">1</text>
<text x="945.1" y="1304.8" font-size="26.4" text-anchor="middle" fill="rgb(205,208,208)" fill-opacity="0.78" transform="rotate(-90 945.1 1304.8)">N$1</text>
<text x="1101.5" y="1304.8" font-size="26.4" text-anchor="middle" fill="rgb(205,208,208)" fill-opacity="0.78" transform="rotate(-90 1101.5 1304.8)">2</text>
<text x="1123.1" y="1304.8" font-size="26.4" text-anchor="middle" fill="rgb(205,208,208)" fill-opacity="0.78" transform="rotate(-90 1123.1 1304.8)">N$9</text>
<text x="508.0" y="114.8" font-size="40" text-anchor="middle" fill="rgb(216,211,42)" fill-opacity="0.77" transform="rotate(0 508.0 101.0)">N$3</text>
<text x="262.0" y="170.8" font-size="40" text-anchor="middle" fill="rgb(216,211,42)" fill-opacity="0.77" transform="rotate(-45 262.0 157.0)">N$3</text>
<text x="204.4" y="362.8" font-size="40" text-anchor="middle" fill="rgb(216,211,42)" fill-opacity="0.77" transform="rotate(-90 204.4 349.0)">N$3</text>
<text x="429.3" y="418.8" font-size="40" text-anchor="middle" fill="rgb(216,211,42)" fill-opacity="0.77" transform="rotate(0 429.3 405.0)">N$9</text>
<text x="745.0" y="432.8" font-size="40" text-anchor="middle" fill="rgb(216,211,42)" fill-opacity="0.77" transform="rotate(0 745.0 419.0)">N$9</text>
<text x="564.4" y="493.3" font-size="40" text-anchor="middle" fill="rgb(216,211,42)" fill-opacity="0.77" transform="rotate(-90 564.4 479.5)">N$9</text>
<text x="475.0" y="553.8" font-size="40" text-anchor="middle" fill="rgb(216,211,42)" fill-opacity="0.77" transform="rotate(0 475.0 540.0)">N$9</text>
<text x="282.0" y="587.8" font-size="40" text-anchor="middle" fill="rgb(216,211,42)" fill-opacity="0.77" transform="rotate(0 282.0 574.0)">N$9</text>
<text x="131.0" y="609.8" font-size="40" text-anchor="middle" fill="rgb(216,211,42)" fill-opacity="0.77" transform="rotate(0 131.0 596.0)">N$9</text>
<text x="694.5" y="593.2" font-size="40" text-anchor="middle" fill="rgb(216,211,42)" fill-opacity="0.77" transform="rotate(-45 694.5 579.4)">N$5</text>
<text x="935.0" y="543.5" font-size="40" text-anchor="middle" fill="rgb(216,211,42)" fill-opacity="0.77" transform="rotate(0 935.0 529.7)">N$5</text>
<text x="1313.0" y="589.3" font-size="40" text-anchor="middle" fill="rgb(216,211,42)" fill-opacity="0.77" transform="rotate(0 1313.0 575.5)">N$5</text>
<text x="895.0" y="609.6" font-size="40" text-anchor="middle" fill="rgb(216,211,42)" fill-opacity="0.77" transform="rotate(0 895.0 595.8)">N$13</text>
<text x="1003.2" y="716.8" font-size="40" text-anchor="middle" fill="rgb(216,211,42)" fill-opacity="0.77" transform="rotate(-90 1003.2 703.0)">N$13</text>
<text x="1003.2" y="896.3" font-size="40" text-anchor="middle" fill="rgb(216,211,42)" fill-opacity="0.77" transform="rotate(-90 1003.2 882.5)">N$13</text>
<text x="924.3" y="773.3" font-size="40" text-anchor="middle" fill="rgb(216,211,42)" fill-opacity="0.77" transform="rotate(-90 924.3 759.5)">N$8</text>
<text x="406.5" y="733.3" font-size="40" text-anchor="middle" fill="rgb(216,211,42)" fill-opacity="0.77" transform="rotate(0 406.5 719.5)">N$6</text>
<text x="339.3" y="845.8" font-size="40" text-anchor="middle" fill="rgb(216,211,42)" fill-opacity="0.77" transform="rotate(-90 339.3 832.0)">N$6</text>
<text x="248.8" y="868.8" font-size="40" text-anchor="middle" fill="rgb(216,211,42)" fill-opacity="0.77" transform="rotate(-90 248.8 855.0)">N$7</text>
<text x="248.8" y="1161.8" font-size="40" text-anchor="middle" fill="rgb(216,211,42)" fill-opacity="0.77" transform="rotate(-90 248.8 1148.0)">N$7</text>
<text x="69.5" y="1025.8" font-size="40" text-anchor="middle" fill="rgb(216,211,42)" fill-opacity="0.77" transform="rotate(-90 69.5 1012.0)">N$9</text>
<text x="1098.0" y="823.4" font-size="40" text-anchor="middle" fill="rgb(216,211,42)" fill-opacity="0.77" transform="rotate(0 1098.0 809.6)">N$13</text>
<text x="1328.8" y="868.8" font-size="40" text-anchor="middle" fill="rgb(216,211,42)" fill-opacity="0.77" transform="rotate(-90 1328.8 855.0)">N$4</text>
<text x="1453.2" y="858.8" font-size="40" text-anchor="middle" fill="rgb(216,211,42)" fill-opacity="0.77" transform="rotate(-90 1453.2 845.0)">N$5</text>
<text x="1520.3" y="846.3" font-size="40" text-anchor="middle" fill="rgb(216,211,42)" fill-opacity="0.77" transform="rotate(-90 1520.3 832.5)">N$1</text>
<text x="1357.0" y="463.8" font-size="40" text-anchor="middle" fill="rgb(216,211,42)" fill-opacity="0.77" transform="rotate(0 1357.0 450.0)">N$1</text>
<text x="1194.4" y="306.8" font-size="40" text-anchor="middle" fill="rgb(216,211,42)" fill-opacity="0.77" transform="rotate(-90 1194.4 293.0)">N$2</text>
<text x="620.0" y="947.8" font-size="40" text-anchor="middle" fill="rgb(216,211,42)" fill-opacity="0.77" transform="rotate(0 620.0 934.0)">N$8</text>
<text x="840.0" y="908.8" font-size="40" text-anchor="middle" fill="rgb(216,211,42)" fill-opacity="0.77" transform="rotate(-45 840.0 895.0)">N$8</text>
<text x="767.0" y="1049.0" font-size="40" text-anchor="middle" fill="rgb(216,211,42)" fill-opacity="0.77" transform="rotate(0 767.0 1035.2)">N$13</text>
<text x="564.4" y="1206.8" font-size="40" text-anchor="middle" fill="rgb(216,211,42)" fill-opacity="0.77" transform="rotate(-90 564.4 1193.0)">N$13</text>
<text x="475.0" y="1318.7" font-size="40" text-anchor="middle" fill="rgb(216,211,42)" fill-opacity="0.77" transform="rotate(0 475.0 1304.9)">N$13</text>
<text x="1104.4" y="1101.8" font-size="40" text-anchor="middle" fill="rgb(216,211,42)" fill-opacity="0.77" transform="rotate(-90 1104.4 1088.0)">N$1</text>
<text x="1194.3" y="1065.3" font-size="40" text-anchor="middle" fill="rgb(216,211,42)" fill-opacity="0.77" transform="rotate(-90 1194.3 1051.5)">N$5</text>
<text x="1324.0" y="1127.6" font-size="40" text-anchor="middle" fill="rgb(216,211,42)" fill-opacity="0.77" transform="rotate(0 1324.0 1113.8)">N$5</text>
<text x="1031.0" y="1195.8" font-size="40" text-anchor="middle" fill="rgb(216,211,42)" fill-opacity="0.77" transform="rotate(0 1031.0 1182.0)">N$1</text>
<text x="1357.5" y="1243.1" font-size="40" text-anchor="middle" fill="rgb(216,211,42)" fill-opacity="0.77" transform="rotate(0 1357.5 1229.3)">N$1</text>
<text x="743.3" y="1383.8" font-size="40" text-anchor="middle" fill="rgb(216,211,42)" fill-opacity="0.77" transform="rotate(-90 743.3 1370.0)">N$9</text>
<text x="745.3" y="1385.8" font-size="40" text-anchor="middle" fill="rgb(216,211,42)" fill-opacity="0.77" transform="rotate(-90 745.3 1372.0)">N$9</text>
<text x="1103.9" y="1383.8" font-size="40" text-anchor="middle" fill="rgb(216,211,42)" fill-opacity="0.77" transform="rotate(-90 1103.9 1370.0)">N$9</text>
<text x="1238.0" y="1408.8" font-size="40" text-anchor="middle" fill="rgb(216,211,42)" fill-opacity="0.77" transform="rotate(0 1238.0 1395.0)">N$9</text>
<text x="410.0" y="1453.4" font-size="40" text-anchor="middle" fill="rgb(216,211,42)" fill-opacity="0.77" transform="rotate(0 410.0 1439.6)">N$9</text>
<text x="923.0" y="1449.4" font-size="40" text-anchor="middle" fill="rgb(216,211,42)" fill-opacity="0.77" transform="rotate(0 923.0 1435.6)">N$9</text>
</g>
<rect x="1.5" y="0.5" width="1575" height="1485" fill="none" stroke="#c8a02c" stroke-width="1"/>
</g>
</svg></body></html>
